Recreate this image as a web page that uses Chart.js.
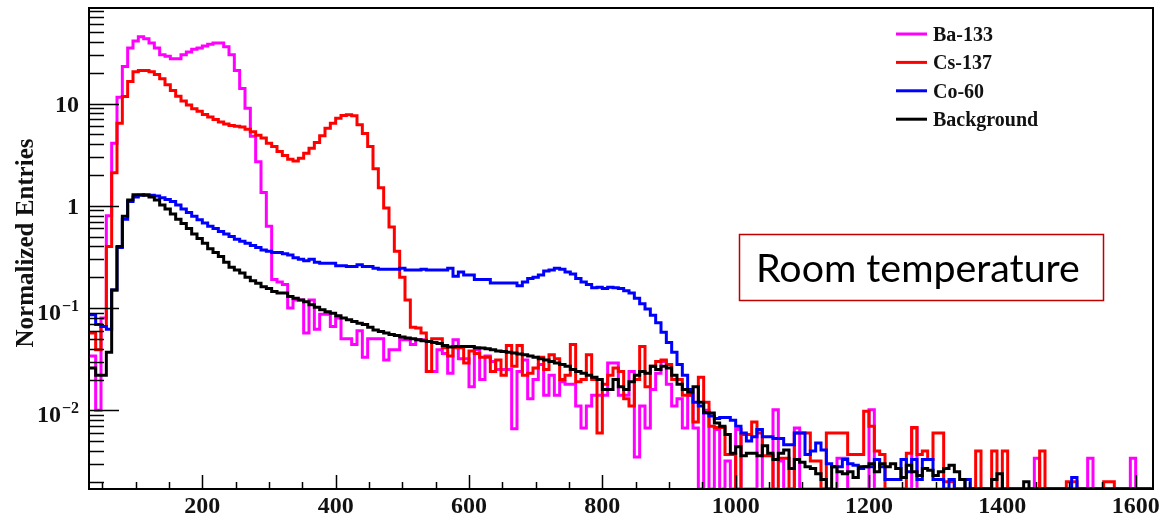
<!DOCTYPE html>
<html>
<head>
<meta charset="utf-8">
<script src="https://cdn.jsdelivr.net/npm/chart.js@4/dist/chart.umd.min.js"></script>
<style>
html, body { margin: 0; padding: 0; background: #fff; }
canvas { display: block; }
</style>
</head>
<body>
<canvas id="c" width="1164" height="518"></canvas>
<script>
// Histogram binning: 200 bins of 8 channel units, first bin starts at 24
const BIN_START = 24;
const BIN_WIDTH = 8;

const seriesLabels = ['Ba-133', 'Cs-137', 'Co-60', 'Background'];

const ba133 = [
  0.034, 0.034, 0.010, 0.08, 0.8, 4.1, 11.5, 23, 35, 41,
  45, 43, 39, 35, 30, 29, 27.5, 27.5, 30, 32,
  34, 35, 36.5, 38, 39, 39, 36, 30, 21, 14,
  9, 4.8, 2.7, 1.35, 0.63, 0.19, 0.18, 0.17, 0.10, 0.12,
  0.12, 0.057, 0.12, 0.062, 0.087, 0.087, 0.066, 0.08, 0.05, 0.05,
  0.044, 0.06, 0.033, 0.05, 0.05, 0.05, 0.031, 0.039, 0.039, 0.049,
  0.049, 0.044, 0.049, 0.049, 0.024, 0.024, 0.039, 0.036, 0.023, 0.049,
  0.032, 0.032, 0.017, 0.039, 0.02, 0.034, 0.03, 0.025, 0.025, 0.025,
  0.0066, 0.024, 0.031, 0.013, 0.02, 0.028, 0.014, 0.022, 0.014, 0.019,
  0.018, 0.018, 0.011, 0.0067, 0.011, 0.014, 0.014, 0.014, 0.029, 0.029,
  0.014, 0.014, 0.024, 0.0035, 0.011, 0.0067, 0.016, 0.023, 0.03, 0.018,
  0.011, 0.013, 0.0067, 0.014, 0.0067, 0, 0.01, 0, 0.0065, 0,
  0.0032, 0, 0.0065, 0, 0, 0, 0.0065, 0, 0, 0.0101,
  0.0032, 0, 0, 0.0067, 0, 0, 0, 0, 0, 0,
  0, 0.0034, 0.0034, 0, 0, 0, 0, 0.0101, 0, 0,
  0, 0, 0, 0, 0, 0.0067, 0, 0, 0, 0,
  0, 0, 0, 0, 0, 0, 0, 0, 0, 0,
  0, 0, 0, 0, 0, 0, 0, 0, 0.0034, 0,
  0, 0, 0, 0, 0, 0, 0, 0, 0.0034, 0,
  0, 0, 0, 0, 0, 0, 0.0034, 0, 0, 0
];

const cs137 = [
  0.057, 0.057, 0.039, 0.066, 0.40, 2.1, 6.4, 11.7, 16.4, 20.5,
  21, 21, 20.5, 19.2, 17.5, 15.3, 13.4, 11.8, 10.6, 9.7,
  8.9, 8.4, 7.8, 7.4, 7.0, 6.6, 6.3, 6.1, 6.0, 5.9,
  5.6, 5.3, 4.9, 4.6, 4.1, 3.8, 3.4, 3.1, 2.86, 2.75,
  2.92, 3.27, 3.66, 4.16, 4.83, 5.74, 6.43, 7.2, 7.64, 7.76,
  7.6, 6.2, 5.1, 3.8, 2.3, 1.5, 0.95, 0.62, 0.36, 0.2,
  0.12, 0.065, 0.064, 0.057, 0.024, 0.05, 0.05, 0.041, 0.034, 0.041,
  0.041, 0.029, 0.038, 0.036, 0.033, 0.033, 0.024, 0.031, 0.022, 0.043,
  0.027, 0.043, 0.022, 0.023, 0.026, 0.033, 0.025, 0.035, 0.032, 0.02,
  0.022, 0.044, 0.019, 0.02, 0.035, 0.02, 0.006, 0.018, 0.022, 0.026,
  0.024, 0.013, 0.011, 0.02, 0.042, 0.017, 0.027, 0.03, 0.031, 0.028,
  0.02, 0.02, 0.014, 0.014, 0.0077, 0.021, 0.012, 0.007, 0.0068, 0.0068,
  0.0037, 0.0037, 0, 0.0058, 0.0058, 0.0077, 0.006, 0.0036, 0.0036, 0,
  0.0034, 0.0034, 0, 0.006, 0.006, 0.006, 0.0032, 0.0032, 0, 0.006,
  0.006, 0.006, 0.006, 0.0037, 0.0037, 0.0037, 0.0098, 0.007, 0.004, 0.0037,
  0, 0, 0, 0, 0.0038, 0.0068, 0.0037, 0.004, 0.0033, 0.006,
  0.006, 0.002, 0.002, 0, 0, 0, 0, 0.004, 0, 0,
  0.004, 0, 0.004, 0, 0, 0, 0, 0, 0, 0.004,
  0, 0, 0, 0, 0.002, 0.002, 0, 0, 0, 0,
  0, 0.002, 0.002, 0, 0, 0, 0, 0, 0, 0
];

const co60 = [
  0.086, 0.086, 0.069, 0.066, 0.062, 0.15, 0.39, 0.74, 1.1, 1.22,
  1.27, 1.28, 1.27, 1.25, 1.2, 1.15, 1.1, 1.02, 0.93, 0.86,
  0.79, 0.73, 0.68, 0.63, 0.6, 0.56, 0.53, 0.5, 0.47, 0.45,
  0.43, 0.41, 0.39, 0.37, 0.36, 0.35, 0.35, 0.34, 0.33, 0.31,
  0.30, 0.29, 0.30, 0.28, 0.275, 0.275, 0.275, 0.26, 0.26, 0.255,
  0.255, 0.265, 0.255, 0.255, 0.245, 0.24, 0.24, 0.24, 0.24, 0.245,
  0.235, 0.235, 0.235, 0.24, 0.235, 0.235, 0.235, 0.235, 0.245, 0.205,
  0.225, 0.21, 0.21, 0.19, 0.19, 0.19, 0.176, 0.176, 0.176, 0.176,
  0.176, 0.165, 0.18, 0.195, 0.2, 0.21, 0.23, 0.235, 0.245, 0.24,
  0.225, 0.215, 0.195, 0.18, 0.17, 0.158, 0.16, 0.155, 0.16, 0.158,
  0.155, 0.148, 0.14, 0.125, 0.11, 0.098, 0.085, 0.072, 0.058, 0.046,
  0.037, 0.028, 0.022, 0.016, 0.012, 0.011, 0.0094, 0.0088, 0.0083, 0.0085,
  0.0085, 0.008, 0.007, 0.006, 0.005, 0.0055, 0.0065, 0.0055, 0.0055, 0.0053,
  0.0053, 0.0046, 0.0046, 0.006, 0.006, 0.0037, 0.004, 0.0048, 0.0041, 0.003,
  0.0028, 0.0028, 0.0033, 0.003, 0.0029, 0.0027, 0.0028, 0.0028, 0.0033, 0.0028,
  0.0021, 0.0021, 0.0021, 0.0033, 0.0025, 0.0033, 0.0021, 0.0033, 0.0033, 0.0021,
  0.0021, 0, 0.0021, 0, 0, 0.0021, 0, 0, 0, 0,
  0, 0, 0, 0, 0, 0, 0, 0, 0, 0,
  0, 0, 0, 0, 0, 0.0022, 0, 0, 0, 0,
  0, 0, 0, 0, 0, 0, 0, 0, 0, 0
];

const background = [
  0.026, 0.026, 0.022, 0.022, 0.037, 0.15, 0.40, 0.79, 1.14, 1.28,
  1.28, 1.27, 1.22, 1.14, 1.02, 0.93, 0.83, 0.74, 0.67, 0.60,
  0.53, 0.48, 0.43, 0.38, 0.35, 0.32, 0.28, 0.25, 0.235, 0.22,
  0.20, 0.185, 0.175, 0.162, 0.155, 0.145, 0.14, 0.14, 0.13, 0.125,
  0.12, 0.115, 0.108, 0.102, 0.096, 0.092, 0.089, 0.084, 0.080, 0.077,
  0.074, 0.071, 0.069, 0.065, 0.061, 0.059, 0.057, 0.055, 0.054, 0.052,
  0.051, 0.050, 0.049, 0.048, 0.047, 0.046, 0.045, 0.043, 0.0415, 0.042,
  0.042, 0.042, 0.042, 0.041, 0.0406, 0.040, 0.039, 0.038, 0.0377, 0.037,
  0.0363, 0.0355, 0.035, 0.034, 0.033, 0.032, 0.031, 0.030, 0.029, 0.028,
  0.027, 0.025, 0.024, 0.023, 0.022, 0.021, 0.02, 0.016, 0.016, 0.02,
  0.017, 0.016, 0.019, 0.022, 0.024, 0.023, 0.027, 0.025, 0.027, 0.026,
  0.022, 0.018, 0.016, 0.015, 0.017, 0.012, 0.0095, 0.0094, 0.0075, 0.007,
  0.0058, 0.0038, 0.0044, 0.0036, 0.0038, 0.0038, 0.0036, 0.0045, 0.0038, 0.0033,
  0.0038, 0.0041, 0.0027, 0.0033, 0.0031, 0.0028, 0.0027, 0.0024, 0.0021, 0,
  0.0028, 0.0025, 0.0024, 0.0025, 0.0022, 0.0028, 0.0028, 0.003, 0.0025, 0.003,
  0.0028, 0.003, 0.0027, 0.0022, 0.0029, 0.0025, 0.0023, 0.0027, 0.0026, 0.0023,
  0.0025, 0.0027, 0.0029, 0.0025, 0.0021, 0, 0, 0, 0, 0,
  0.0021, 0.0024, 0, 0, 0, 0, 0.002, 0, 0, 0,
  0, 0, 0, 0, 0, 0, 0, 0, 0, 0,
  0, 0, 0, 0, 0, 0, 0, 0, 0, 0
];

// Axis ticks and labels
const xTickValues = [200, 400, 600, 800, 1000, 1200, 1400, 1600];
const xMinorStep = 50;
const yTickValues = [0.01, 0.1, 1, 10];
const yTickLabels = [
  { base: '10', exp: '\u22122' },
  { base: '10', exp: '\u22121' },
  { base: '1', exp: '' },
  { base: '10', exp: '' }
];
const yTitle = 'Normalized Entries';
const noteText = 'Room temperature';

const X_MIN = 30, X_MAX = 1626;
const Y_MIN = 0.0017, Y_MAX = 86;

const colors = ['#ff00ff', '#ff0000', '#0000ff', '#000000'];
const drawOrder = [3, 2, 1, 0];

// Empty bins sit on the lower edge of the log axis, as in a ROOT histogram
function toSteps(values) {
  const pts = values.map((v, i) => ({ x: BIN_START + i * BIN_WIDTH, y: v > Y_MIN ? v : Y_MIN }));
  pts.push({ x: BIN_START + values.length * BIN_WIDTH, y: pts[pts.length - 1].y });
  return pts;
}

const seriesValues = [ba133, cs137, co60, background];
const datasets = seriesValues.map((vals, i) => ({
  label: seriesLabels[i],
  data: toSteps(vals),
  borderColor: colors[i],
  backgroundColor: colors[i],
  borderWidth: 3,
  stepped: 'before',
  pointRadius: 0,
  fill: false,
  order: drawOrder[i],
  borderJoinStyle: 'miter',
  borderCapStyle: 'butt'
}));

const SERIF = '"Liberation Serif", "DejaVu Serif", serif';
const TEXT = '#111';

const frameAndText = {
  id: 'frameAndText',
  afterDraw(chart) {
    const { ctx, chartArea: a, scales } = chart;
    const xs = scales.x, ys = scales.y;
    ctx.save();

    // frame
    ctx.strokeStyle = '#000';
    ctx.lineWidth = 2;
    ctx.strokeRect(a.left, a.top, a.right - a.left, a.bottom - a.top);

    // x ticks (inside, pointing up)
    ctx.lineWidth = 1.5;
    ctx.beginPath();
    for (let v = xMinorStep; v <= X_MAX; v += xMinorStep) {
      if (v <= X_MIN) continue;
      const px = Math.round(xs.getPixelForValue(v)) + 0.5;
      const len = xTickValues.includes(v) ? 14 : 7;
      ctx.moveTo(px, a.bottom);
      ctx.lineTo(px, a.bottom - len);
    }
    // y ticks (inside, pointing right)
    for (let k = -3; k <= 1; k++) {
      for (let d = 1; d <= 9; d++) {
        const v = d * Math.pow(10, k);
        if (v < Y_MIN || v > Y_MAX) continue;
        const py = Math.round(ys.getPixelForValue(v)) + 0.5;
        const len = d === 1 ? 30 : 15;
        ctx.moveTo(a.left, py);
        ctx.lineTo(a.left + len, py);
      }
    }
    ctx.stroke();

    // x tick labels
    ctx.fillStyle = TEXT;
    ctx.font = 'bold 24px ' + SERIF;
    ctx.textAlign = 'center';
    ctx.textBaseline = 'alphabetic';
    xTickValues.forEach(v => {
      ctx.fillText(String(v), xs.getPixelForValue(v), 513);
    });

    // y tick labels with superscript exponents
    const right = 79;
    yTickValues.forEach((v, i) => {
      const lab = yTickLabels[i];
      const py = ys.getPixelForValue(v);
      ctx.textAlign = 'left';
      if (lab.exp) {
        ctx.font = 'bold 16px ' + SERIF;
        const we = ctx.measureText(lab.exp).width;
        ctx.font = 'bold 24px ' + SERIF;
        const wb = ctx.measureText(lab.base).width;
        const x0 = right - we - wb - 1;
        ctx.fillText(lab.base, x0, py + 12);
        ctx.font = 'bold 16px ' + SERIF;
        ctx.fillText(lab.exp, x0 + wb + 1, py + 3);
      } else {
        ctx.font = 'bold 24px ' + SERIF;
        const wb = ctx.measureText(lab.base).width;
        ctx.fillText(lab.base, right - wb, py + 8);
      }
    });

    // y axis title
    ctx.save();
    ctx.translate(33, 243);
    ctx.rotate(-Math.PI / 2);
    ctx.font = 'bold 25px ' + SERIF;
    ctx.textAlign = 'center';
    ctx.textBaseline = 'alphabetic';
    ctx.fillText(yTitle, 0, 0);
    ctx.restore();

    // legend
    ctx.font = 'bold 20px ' + SERIF;
    ctx.textAlign = 'left';
    chart.data.datasets.forEach((ds, i) => {
      const y = 34 + i * 28.4;
      ctx.strokeStyle = ds.borderColor;
      ctx.lineWidth = 3;
      ctx.beginPath();
      ctx.moveTo(896, y);
      ctx.lineTo(927, y);
      ctx.stroke();
      ctx.fillStyle = TEXT;
      ctx.fillText(ds.label, 933, y + 7);
    });

    // annotation box
    ctx.fillStyle = '#fff';
    ctx.fillRect(739, 234, 364, 67);
    ctx.strokeStyle = '#c00000';
    ctx.lineWidth = 1.5;
    ctx.strokeRect(739.5, 234.5, 364, 66);
    let size = 36;
    ctx.font = size + 'px Lato, "Liberation Sans", sans-serif';
    const w = ctx.measureText(noteText).width;
    size = size * 324 / w;
    ctx.font = size.toFixed(2) + 'px Lato, "Liberation Sans", sans-serif';
    ctx.fillStyle = '#000';
    ctx.fillText(noteText, 756, 282);

    ctx.restore();
  }
};

new Chart(document.getElementById('c'), {
  type: 'line',
  data: { datasets },
  options: {
    responsive: false,
    animation: false,
    devicePixelRatio: 1,
    layout: { padding: { left: 89, right: 11, top: 8, bottom: 29 } },
    scales: {
      x: { type: 'linear', min: X_MIN, max: X_MAX, display: false },
      y: { type: 'logarithmic', min: Y_MIN, max: Y_MAX, display: false }
    },
    plugins: {
      legend: { display: false },
      tooltip: { enabled: false }
    },
    elements: { line: { tension: 0 } }
  },
  plugins: [frameAndText]
});
</script>
</body>
</html>
